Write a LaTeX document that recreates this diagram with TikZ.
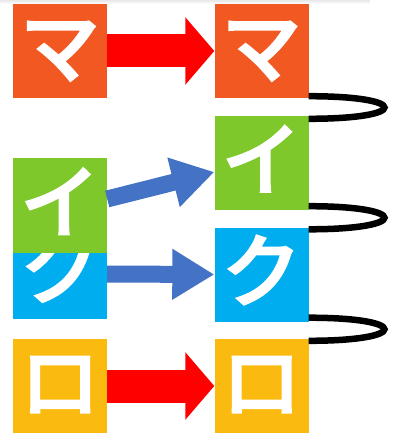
\documentclass[tikz,border=0pt]{standalone}
\usepackage{fontspec}
\newfontfamily\jpfont{Noto Sans CJK JP}[UprightFont={* Medium}, UprightFeatures={FakeBold=2}]
\usepackage{tikz}
\usetikzlibrary{arrows.meta,calc}

\definecolor{maorange}{RGB}{241,88,34}
\definecolor{igreen}{RGB}{126,200,44}
\definecolor{kublue}{RGB}{0,174,239}
\definecolor{royellow}{RGB}{251,186,16}
\definecolor{arrblue}{RGB}{68,114,196}

\begin{document}
\begin{tikzpicture}[
  x=1pt, y=-1pt,
  kana/.style={minimum size=94pt, inner sep=0pt, text=white,
    text height=60pt, text depth=8pt,
    font=\jpfont\fontsize{80}{80}\selectfont},
  redarrow/.style={red, line width=33pt, -{Triangle[length=29pt,width=66pt]}},
  bluearrow/.style={arrblue, line width=17pt, -{Triangle[length=42pt,width=48pt]}},
  hook/.style={black, line width=6.5pt},
]
\useasboundingbox (0,0) rectangle (393,435);

\shade[top color=gray!18, bottom color=white] (0,0) rectangle (370,4);

\node[kana, fill=kublue]   (ku1) at (60,272)    {ク};
\node[kana, fill=igreen]   (i1)  at (60,205.5)  {イ};
\node[kana, fill=maorange] (ma1) at (60,51)     {マ};
\node[kana, fill=royellow] (ro1) at (60,386)    {ロ};

\node[kana, fill=maorange] (ma2) at (261.5,51)    {マ};
\node[kana, fill=igreen]   (i2)  at (261.5,163)   {イ};
\node[kana, fill=kublue]   (ku2) at (261.5,274.5) {ク};
\node[kana, fill=royellow] (ro2) at (261.5,386)   {ロ};

\draw[redarrow] (ma1.east) -- (ma2.west);
\draw[redarrow] (ro1.east) -- (ro2.west);
\draw[bluearrow] ([yshift=6.5pt]i1.east) -- ([yshift=-9pt]i2.west);
\draw[bluearrow] ([yshift=-2pt]ku1.east) -- (ku2.west);

\draw[hook] ([yshift=2pt]ma2.south east) .. controls +(101,0) and +(101,0) .. ([yshift=-3pt]i2.north east);
\draw[hook] ([yshift=4pt]i2.south east) .. controls +(101,0) and +(101,0) .. ([yshift=-2pt]ku2.north east);
\draw[hook] ([yshift=4pt]ku2.south east) .. controls +(101,0) and +(101,0) .. ([yshift=-2pt]ro2.north east);

\end{tikzpicture}
\end{document}
